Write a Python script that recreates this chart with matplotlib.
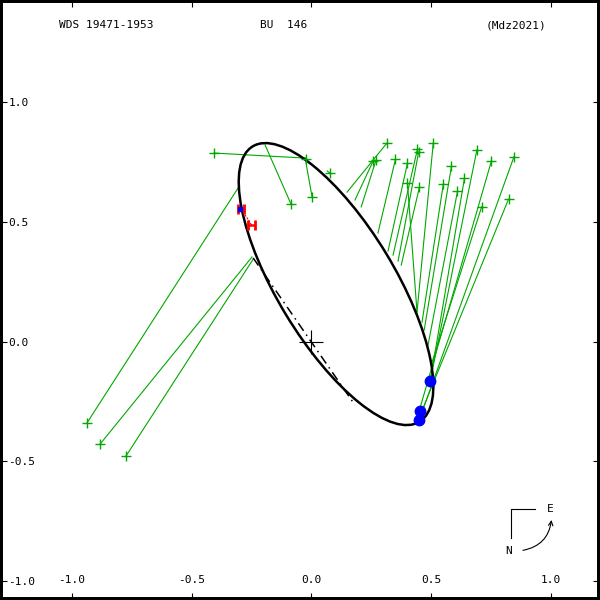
"""Apparent orbit of WDS 19471-1953 (BU 146), Mdz2021 solution, with measures and O-C lines."""

import matplotlib
matplotlib.use("Agg")
import matplotlib.pyplot as plt
from matplotlib.patches import Ellipse, FancyArrowPatch

# micrometer measures (green +) and their predicted positions on the orbit, arcsec
obs_x = [-0.937, -0.882, -0.774, -0.406, -0.085, 0.003, 0.076, -0.022,
         0.315, 0.258, 0.270, 0.351, 0.401, 0.443, 0.448, 0.401, 0.451, 0.509,
         0.585, 0.551, 0.639, 0.610, 0.691, 0.752, 0.846, 0.711, 0.823]
obs_y = [-0.340, -0.428, -0.478, 0.787, 0.574, 0.603, 0.705, 0.762,
         0.828, 0.754, 0.758, 0.761, 0.744, 0.804, 0.792, 0.663, 0.644, 0.830,
         0.733, 0.658, 0.681, 0.627, 0.800, 0.755, 0.772, 0.563, 0.594]
pred_x = [-0.306, -0.248, -0.243, -0.026, -0.193, -0.026, 0.066, -0.026,
          0.149, 0.182, 0.208, 0.278, 0.320, 0.341, 0.362, 0.441, 0.375, 0.441,
          0.471, 0.462, 0.496, 0.487, 0.496, 0.450, 0.450, 0.500, 0.454]
pred_y = [0.641, 0.353, 0.344, 0.766, 0.820, 0.766, 0.712, 0.766,
          0.624, 0.591, 0.562, 0.453, 0.378, 0.361, 0.336, 0.123, 0.319, 0.123,
          0.048, 0.081, -0.165, -0.015, -0.165, -0.290, -0.328, -0.098, -0.307]

# interferometric measures (blue dots)
speckle_x = [0.496, 0.454, 0.450]
speckle_y = [-0.165, -0.290, -0.328]

# Hipparcos-type measures (red H) with predicted positions
hip_x = [-0.294, -0.250]
hip_y = [0.553, 0.487]
hip_pred_x = [-0.294, -0.287]
hip_pred_y = [0.553, 0.545]
hip_err = [0.014, 0.016]
first_x, first_y = -0.297, 0.555

# apparent ellipse and line of apsides
orbit_center = (0.103, 0.240)
orbit_width = 1.344
orbit_height = 0.490
orbit_angle = -58.8
apsides_x = [-0.243, 0.182]
apsides_y = [0.349, -0.265]

ticks = [-1.0, -0.5, 0.0, 0.5, 1.0]
tick_labels = ["-1.0", "-0.5", "0.0", "0.5", "1.0"]

GREEN = "#00a800"
MONO = "DejaVu Sans Mono"

fig = plt.figure(figsize=(6, 6), dpi=100)
ax = fig.add_axes([0, 0, 1, 1])
ax.set_xlim(-1.300, 1.205)
ax.set_ylim(-1.079, 1.426)

for ox, oy, px, py in zip(obs_x, obs_y, pred_x, pred_y):
    ax.plot([ox, px], [oy, py], color=GREEN, lw=0.8, zorder=2)
ax.plot(obs_x, obs_y, "+", color=GREEN, ms=6.5, mew=1.0, zorder=4)

ax.add_patch(Ellipse(orbit_center, orbit_width, orbit_height, angle=orbit_angle,
                     fill=False, color="black", lw=1.8, zorder=3))
ax.plot(apsides_x, apsides_y, color="black", lw=1.1, ls=(0, (6, 3, 1, 3)), zorder=3)
ax.plot([0], [0], "+", color="black", ms=17, mew=0.8, zorder=4)

for hx, hy, qx, qy in zip(hip_x, hip_y, hip_pred_x, hip_pred_y):
    ax.plot([hx, qx], [hy, qy], color="red", lw=0.8, ls=(0, (2, 1)), zorder=5)
ax.errorbar(hip_x, hip_y, xerr=hip_err, fmt="none", ecolor="red",
            elinewidth=1.8, capsize=3.8, capthick=2.0, zorder=5)
ax.plot([first_x], [first_y], "s", color="blue", ms=3.5, zorder=6)
ax.plot(speckle_x, speckle_y, "o", color="blue", ms=7.5, zorder=6)

ax.set_xticks(ticks)
ax.set_xticklabels(tick_labels)
ax.set_yticks(ticks)
ax.set_yticklabels(tick_labels)
ax.tick_params(direction="in", length=5, width=0.8, top=True, right=True,
               labelsize=8, colors="black")
ax.tick_params(axis="x", pad=-18)
ax.tick_params(axis="y", pad=-6)
for lab in ax.get_yticklabels():
    lab.set_horizontalalignment("left")
for lab in ax.get_xticklabels() + ax.get_yticklabels():
    lab.set_fontfamily(MONO)
for s in ax.spines.values():
    s.set_linewidth(4.3)

ax.text(0.098, 0.958, "WDS 19471-1953", transform=ax.transAxes, fontsize=8,
        family=MONO, va="center", ha="left")
ax.text(0.433, 0.958, "BU  146", transform=ax.transAxes, fontsize=8,
        family=MONO, va="center", ha="left")
ax.text(0.81, 0.958, "(Mdz2021)", transform=ax.transAxes, fontsize=8,
        family=MONO, va="center", ha="left")

# compass: N down, E right
ax.plot([0.851, 0.851, 0.892], [0.103, 0.151, 0.151], color="black", lw=0.8,
        transform=ax.transAxes)
ax.text(0.917, 0.151, "E", transform=ax.transAxes, fontsize=8, family=MONO,
        ha="center", va="center")
ax.text(0.847, 0.081, "N", transform=ax.transAxes, fontsize=8, family=MONO,
        ha="center", va="center")
ax.add_patch(FancyArrowPatch((0.867, 0.082), (0.9195, 0.138), transform=ax.transAxes,
                             connectionstyle="arc3,rad=0.4", arrowstyle="->",
                             mutation_scale=8, lw=0.8, color="black"))

fig.savefig("out.png", dpi=100)
